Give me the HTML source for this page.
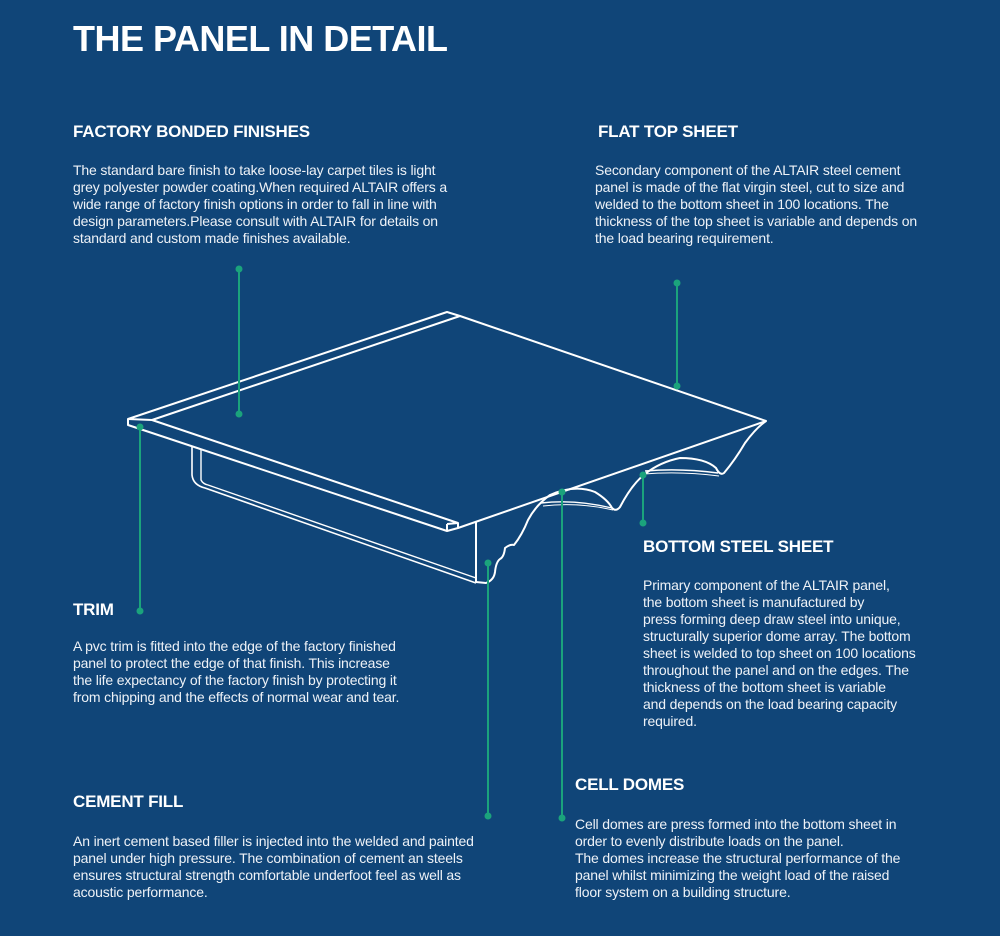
<!DOCTYPE html>
<html><head><meta charset="utf-8"><style>
body{margin:0;width:1000px;height:936px;background:#104578;overflow:hidden;position:relative;font-family:"Liberation Sans",sans-serif;color:#fff}
.t{position:absolute;white-space:nowrap}
h1{position:absolute;left:73px;top:18px;margin:0;font-size:36px;font-weight:bold;letter-spacing:-0.5px}
.h{font-size:17px;font-weight:bold;letter-spacing:-0.2px}
.b{font-size:14px;line-height:17px;color:#eef2f7;letter-spacing:-0.15px}
svg{position:absolute;left:0;top:0}
</style></head><body>
<h1>THE PANEL IN DETAIL</h1>
<div class="t h" style="left:73px;top:122px">FACTORY BONDED FINISHES</div>
<div class="t b" style="left:73px;top:162px">The standard bare finish to take loose-lay carpet tiles is light<br>grey polyester powder coating.When required ALTAIR offers a<br>wide range of factory finish options in order to fall in line with<br>design parameters.Please consult with ALTAIR for details on<br>standard and custom made finishes available.</div>
<div class="t h" style="left:598px;top:122px">FLAT TOP SHEET</div>
<div class="t b" style="left:595px;top:162px">Secondary component of the ALTAIR steel cement<br>panel is made of the flat virgin steel, cut to size and<br>welded to the bottom sheet in 100 locations. The<br>thickness of the top sheet is variable and depends on<br>the load bearing requirement.</div>
<div class="t h" style="left:643px;top:537px">BOTTOM STEEL SHEET</div>
<div class="t b" style="left:643px;top:577px">Primary component of the ALTAIR panel,<br>the bottom sheet is manufactured by<br>press forming deep draw steel into unique,<br>structurally superior dome array. The bottom<br>sheet is welded to top sheet on 100 locations<br>throughout the panel and on the edges. The<br>thickness of the bottom sheet is variable<br>and depends on the load bearing capacity<br>required.</div>
<div class="t h" style="left:73px;top:600px">TRIM</div>
<div class="t b" style="left:73px;top:638px">A pvc trim is fitted into the edge of the factory finished<br>panel to protect the edge of that finish. This increase<br>the life expectancy of the factory finish by protecting it<br>from chipping and the effects of normal wear and tear.</div>
<div class="t h" style="left:73px;top:792px">CEMENT FILL</div>
<div class="t b" style="left:73px;top:833px">An inert cement based filler is injected into the welded and painted<br>panel under high pressure. The combination of cement an steels<br>ensures structural strength comfortable underfoot feel as well as<br>acoustic performance.</div>
<div class="t h" style="left:575px;top:775px">CELL DOMES</div>
<div class="t b" style="left:575px;top:816px">Cell domes are press formed into the bottom sheet in<br>order to evenly distribute loads on the panel.<br>The domes increase the structural performance of the<br>panel whilst minimizing the weight load of the raised<br>floor system on a building structure.</div>
<svg width="1000" height="936" viewBox="0 0 1000 936" fill="none" stroke="#fff" stroke-width="2" stroke-linejoin="round">
<path d="M128,419 L447,312 L460,316 L152,420 Z"/>
<path d="M128,419 L128,425 L447,531 L458,528 L458,523 L152,420"/>
<path d="M447,524 L447,531 M447,524 L458,523"/>
<path d="M460,316 L766,421 L458,528"/>
<path d="M192,447 L192,475 Q193,485 205,488 L476,583" stroke-width="1.6"/>
<path d="M201,450 L201,480 Q203,484 208,485 L476,578" stroke-width="1.4"/>
<path d="M476,521 L476,582"/>
<path d="M476,582 L486,583 Q494,580 495,572 Q496,562 500,559 Q504,557 505,548 Q510,544 514,545 Q522,535 528,520 Q536,505 550,495 Q575,484 595,492 Q608,500 612,508 Q616,512 620,507 Q632,484 645,474 Q660,462 680,458 Q705,458 716,468 Q720,476 724,473 Q735,460 745,443 Q756,428 766,421"/>
<path d="M541,503 Q575,499 612,508" stroke-width="1.4"/>
<path d="M543,506 Q578,502 613,510" stroke-width="1"/>
<path d="M645,471 Q680,468 718,473" stroke-width="1.4"/>
<path d="M644,474 Q680,471 719,476" stroke-width="1"/>
<g stroke="#1ba37c" stroke-width="2" fill="#1ba37c">
<line x1="239" y1="269" x2="239" y2="414"/><circle cx="239" cy="269" r="3.5" stroke="none"/><circle cx="239" cy="414" r="3.5" stroke="none"/>
<line x1="677" y1="283" x2="677" y2="386"/><circle cx="677" cy="283" r="3.5" stroke="none"/><circle cx="677" cy="386" r="3.5" stroke="none"/>
<line x1="140" y1="427" x2="140" y2="611"/><circle cx="140" cy="427" r="3.5" stroke="none"/><circle cx="140" cy="611" r="3.5" stroke="none"/>
<line x1="643" y1="475" x2="643" y2="523"/><circle cx="643" cy="475" r="3.5" stroke="none"/><circle cx="643" cy="523" r="3.5" stroke="none"/>
<line x1="488" y1="563" x2="488" y2="816"/><circle cx="488" cy="563" r="3.5" stroke="none"/><circle cx="488" cy="816" r="3.5" stroke="none"/>
<line x1="562" y1="492" x2="562" y2="818"/><circle cx="562" cy="492" r="3.5" stroke="none"/><circle cx="562" cy="818" r="3.5" stroke="none"/>
</g>
</svg>
</body></html>
